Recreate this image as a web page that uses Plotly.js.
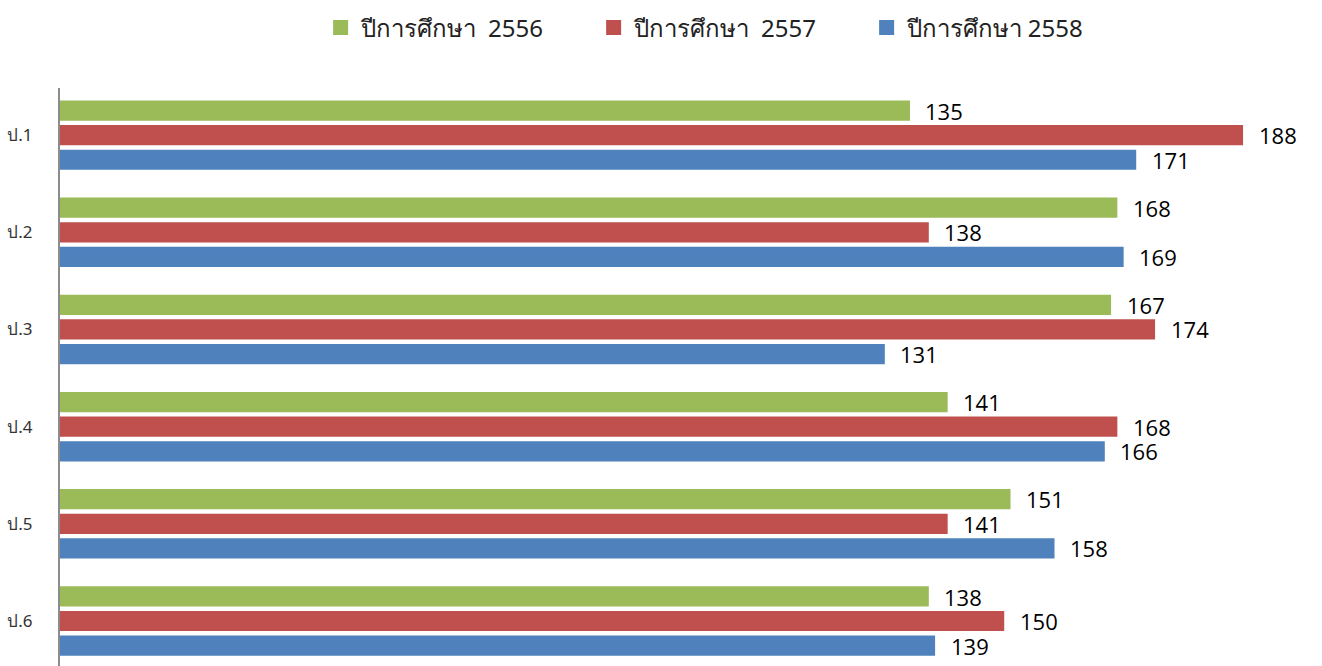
<!DOCTYPE html>
<html>
<head>
<meta charset="utf-8">
<script src="https://cdn.plot.ly/plotly-3.0.1.min.js"></script>
<style>html,body{margin:0;padding:0;background:#fff;overflow:hidden}</style>
</head>
<body>
<div id="chart" style="width:1322px;height:666px"></div>
<script>
const categories = ['ป.1', 'ป.2', 'ป.3', 'ป.4', 'ป.5', 'ป.6'];
const seriesNames = ['ปีการศึกษา  2556', 'ปีการศึกษา  2557', 'ปีการศึกษา 2558'];
const values2556 = [135, 168, 167, 141, 151, 138];
const values2557 = [188, 138, 174, 168, 141, 150];
const values2558 = [171, 169, 131, 166, 158, 139];
const colors = ['#9BBB59', '#C0504D', '#4F81BD'];

const allValues = [values2556, values2557, values2558];
const traces = allValues.map((vals, i) => ({
  type: 'bar',
  orientation: 'h',
  name: seriesNames[i],
  x: vals,
  y: categories,
  marker: {color: colors[i], line: {color: colors[i], width: 3}},
  hoverinfo: 'x+name'
}));

const yShifts = [24.5, 0, -24.5];
const annotations = [];
allValues.forEach((vals, i) => {
  vals.forEach((v, j) => {
    annotations.push({
      x: v, y: categories[j], xref: 'x', yref: 'y',
      text: String(v), showarrow: false,
      xanchor: 'left', yanchor: 'middle',
      xshift: 15, yshift: yShifts[i],
      font: {family: 'Open Sans, sans-serif', size: 22, color: '#000'}
    });
  });
});

const layout = {
  width: 1322, height: 666,
  margin: {l: 60, r: 0, t: 88, b: 0},
  paper_bgcolor: '#fff', plot_bgcolor: '#fff',
  barmode: 'group',
  bargap: 0.24,
  bargroupgap: 0.3,
  showlegend: true,
  legend: {
    orientation: 'h', x: 0.531, xanchor: 'center', y: 1.104, yanchor: 'middle',
    font: {family: 'Liberation Sans Narrow, Noto Sans, sans-serif', size: 24, color: '#222'},
    traceorder: 'normal', itemwidth: 30,
    entrywidth: 228, entrywidthmode: 'pixels'
  },
  xaxis: {
    range: [0, 200.8], showgrid: false, zeroline: false,
    showline: false, showticklabels: false, ticks: ''
  },
  yaxis: {
    type: 'category', categoryarray: categories, categoryorder: 'array',
    range: [5.463, -0.485],
    showgrid: false, zeroline: false,
    showline: true, linecolor: '#8c8c8c', linewidth: 2,
    ticks: '', ticklabelstandoff: 22,
    tickfont: {family: 'Noto Sans, DejaVu Sans, sans-serif', size: 17, color: '#333'}
  },
  annotations: annotations
};

Plotly.newPlot('chart', traces, layout, {displayModeBar: false, staticPlot: true});
</script>
</body>
</html>
